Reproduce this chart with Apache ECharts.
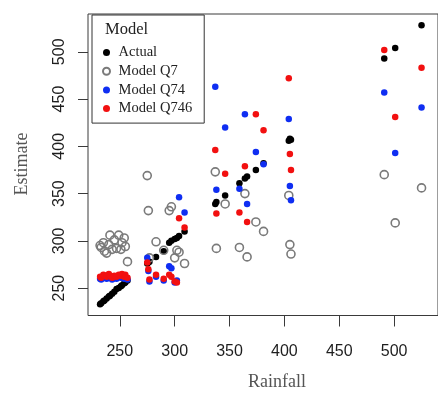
<!DOCTYPE html>
<html>
<head>
<meta charset="utf-8">
<script src="https://cdn.jsdelivr.net/npm/echarts@6/dist/echarts.min.js"></script>
<style>
  html, body { margin: 0; padding: 0; background: #fff; }
  #chart { width: 438px; height: 401px; }
</style>
</head>
<body>
<div id="chart"></div>
<script>
// One entry per site: rainfall and the four estimates for that site
const rainfall = [
  232, 233, 235, 236, 238, 240, 241, 243, 245, 247, 249, 251, 252, 254, 255, 257,
  275, 276, 277, 283, 290, 295, 297, 300, 302, 304, 309,
  337, 338, 346,
  359, 364, 366, 374, 381,
  404, 405, 406,
  491, 501, 525
];
const actual = [
  233, 234, 236, 237, 239, 241, 242, 244, 246, 249, 250, 252, 253, 255, 256, 258,
  276, 277, 278, 283, 289, 298, 300, 302, 303, 305, 310,
  339, 341, 348,
  361, 366, 368, 375, 382,
  406, 408, 407,
  493, 504, 528
];
const modelQ7 = [
  295, 293, 298, 289, 287, 296, 306, 291, 301, 292, 306, 291, 298, 303, 294, 278,
  369, 332, 282, 299, 290, 332, 336, 282, 290, 288, 276,
  373, 292, 339,
  293, 350, 283, 320, 310,
  348, 296, 286,
  370, 319, 356
];
const modelQ74 = [
  260, 259, 262, 261, 260, 262, 261, 259, 261, 260, 262, 261, 262, 260, 262, 259,
  282, 268, 257, 262, 258, 273, 271, 256, 258, 346, 330,
  463, 354, 420,
  355, 434, 339, 394, 381,
  429, 358, 343,
  457, 393, 441
];
const modelQ746 = [
  262, 261, 264, 263, 262, 265, 263, 261, 263, 262, 264, 263, 265, 262, 264, 261,
  277, 270, 259, 264, 260, 264, 262, 257, 256, 324, 314,
  396, 329, 371,
  330, 379, 320, 434, 417,
  472, 392, 375,
  502, 431, 483
];

const xTicks = [250, 300, 350, 400, 450, 500];
const yTicks = [250, 300, 350, 400, 450, 500];

const pairs = (ys) => rainfall.map((x, i) => [x, ys[i]]);

const serif = 'Liberation Serif, Times New Roman, serif';
const sans = 'Liberation Sans, Arial, sans-serif';
const frame = '#3a3a3a';

const chart = echarts.init(document.getElementById('chart'), null, { renderer: 'canvas' });

chart.setOption({
  animation: false,
  backgroundColor: '#fff',
  grid: {
    left: 88, top: 14, right: -13.4, bottom: 85.5,
    show: true, borderColor: frame, borderWidth: 1, backgroundColor: 'transparent'
  },
  xAxis: {
    type: 'value', min: 221, max: 540,
    axisLine: { show: false },
    splitLine: { show: false },
    axisTick: { show: true, length: 11, customValues: xTicks, lineStyle: { color: frame, width: 1 } },
    axisLabel: { customValues: xTicks, fontFamily: sans, fontSize: 16, color: '#1e1e1e', margin: 28 }
  },
  yAxis: {
    type: 'value', min: 221, max: 540,
    axisLine: { show: false },
    splitLine: { show: false },
    axisTick: { show: true, length: 10, customValues: yTicks, lineStyle: { color: frame, width: 1 } },
    axisLabel: { customValues: yTicks, rotate: 90, fontFamily: sans, fontSize: 16, color: '#1e1e1e', margin: 20 }
  },
  legend: {
    left: 92, top: 15, orient: 'vertical',
    selectedMode: false,
    backgroundColor: '#fff',
    borderColor: '#333', borderWidth: 1,
    padding: [29, 12, 6, 10],
    itemWidth: 14, itemHeight: 7, itemGap: 1.7,
    textStyle: { fontFamily: serif, fontSize: 14.5, color: '#222', lineHeight: 17 },
    data: ['Actual', 'Model Q7', 'Model Q74', 'Model Q746']
  },
  graphic: [
    {
      type: 'text', x: 105, y: 30, z: 100,
      style: { text: 'Model', font: '16.5px ' + serif, fill: '#222', align: 'left', verticalAlign: 'middle' }
    },
    {
      type: 'text', x: 277, y: 382, z: 100,
      style: { text: 'Rainfall', font: '18px ' + serif, fill: '#555', align: 'center', verticalAlign: 'middle' }
    },
    {
      type: 'text', x: 22, y: 164, rotation: Math.PI / 2, z: 100,
      style: { text: 'Estimate', font: '18px ' + serif, fill: '#555', align: 'center', verticalAlign: 'middle' }
    }
  ],
  series: [
    {
      name: 'Actual', type: 'scatter', symbol: 'circle', symbolSize: 6.5,
      itemStyle: { color: '#000', opacity: 1 }, emphasis: { disabled: true },
      data: pairs(actual)
    },
    {
      name: 'Model Q7', type: 'scatter', symbol: 'circle', symbolSize: 8,
      itemStyle: { color: 'rgba(255,255,255,0)', borderColor: '#7a7a7a', borderWidth: 1.6, opacity: 1 },
      emphasis: { disabled: true },
      data: pairs(modelQ7)
    },
    {
      name: 'Model Q74', type: 'scatter', symbol: 'circle', symbolSize: 6.5,
      itemStyle: { color: '#0f2ef2', opacity: 1 }, emphasis: { disabled: true },
      data: pairs(modelQ74)
    },
    {
      name: 'Model Q746', type: 'scatter', symbol: 'circle', symbolSize: 6.5,
      itemStyle: { color: '#f21010', opacity: 1 }, emphasis: { disabled: true },
      data: pairs(modelQ746)
    }
  ]
});
</script>
</body>
</html>
